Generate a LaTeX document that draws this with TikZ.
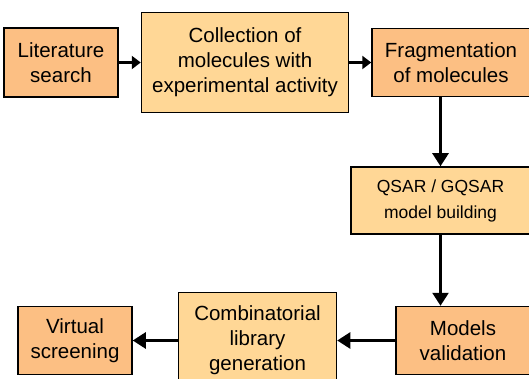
\documentclass[tikz,border=0pt]{standalone}
\usepackage{fontspec}
\setmainfont{Liberation Sans}
\usepackage{tikz}
\usetikzlibrary{arrows.meta, positioning}

\definecolor{peach}{RGB}{252,191,131}
\definecolor{sand}{RGB}{255,215,150}

\begin{document}
\begin{tikzpicture}[thick,
                    box/.style={rectangle,draw,line width=1.5pt,align=center,inner sep=0pt,
                                font=\fontsize{20.5}{25}\selectfont},
                    orange node/.style={box,fill=peach},
                    pale node/.style={box,fill=sand},
                    flow/.style={line width=2.6pt,-{Triangle[width=16pt,length=13pt]}}]

  \useasboundingbox (0,0) rectangle (529pt,-379pt);

  \node[orange node,minimum width=114pt,minimum height=69pt] (lit) at (61pt,-62.5pt) {Literature\\search};
  \node[pale node,minimum width=207pt,minimum height=100pt] (coll) [right=22pt of lit] {Collection of\\molecules with\\experimental activity};
  \node[orange node,minimum width=158pt,minimum height=68pt] (frag) [right=22pt of coll] {Fragmentation\\of molecules};
  \node[pale node,minimum width=179pt,minimum height=67pt,font=\fontsize{17.5}{26}\selectfont] (qsar) [below left=69pt and 0pt of frag.south east] {QSAR / GQSAR\\model building};
  \node[orange node,minimum width=134pt,minimum height=68pt] (models) [below left=71pt and 0pt of qsar.south east] {Models\\validation};
  \node[pale node,minimum width=158pt,minimum height=96pt] (comb) [left=58pt of models] {Combinatorial\\library\\generation};
  \node[orange node,minimum width=114pt,minimum height=68pt] (virt) [left=45pt of comb] {Virtual\\screening};

  \draw[flow,-{Triangle[width=13pt,length=9pt]}] (lit) -- (coll);
  \draw[flow,-{Triangle[width=13pt,length=9pt]}] (coll) -- (frag);
  \draw[flow] (qsar.north |- frag.south) -- (qsar.north);
  \draw[flow] (qsar.south) -- (qsar.south |- models.north);
  \draw[flow] (models) -- (comb);
  \draw[flow] (comb) -- (virt);

\end{tikzpicture}
\end{document}
